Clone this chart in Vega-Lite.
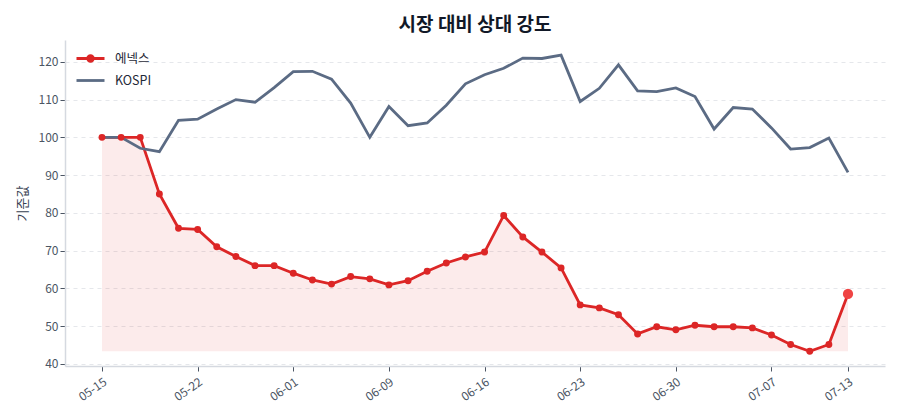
{
  "$schema": "https://vega.github.io/schema/vega-lite/v6.json",
  "width": 820,
  "height": 326,
  "autosize": {"type": "none"},
  "padding": {"left": 65, "top": 40, "right": 15, "bottom": 54},
  "background": "white",
  "config": {
    "font": "Noto Sans CJK KR",
    "view": {"stroke": null},
    "axis": {
      "domainColor": "#d5d9e0",
      "domainWidth": 1.5,
      "tickColor": "#4b5563",
      "tickSize": 5,
      "labelColor": "#4b5563",
      "labelFontSize": 12,
      "labelFont": "Noto Sans CJK KR"
    }
  },
  "title": {
    "text": "시장 대비 상대 강도",
    "fontSize": 19,
    "fontWeight": "bold",
    "color": "#111827",
    "anchor": "middle",
    "frame": "group",
    "offset": 5
  },
  "data": {
    "values": [
      {"date": "05-15", "series": "에넥스", "value": 100},
      {"date": "05-18", "series": "에넥스", "value": 100},
      {"date": "05-19", "series": "에넥스", "value": 100},
      {"date": "05-20", "series": "에넥스", "value": 85.0},
      {"date": "05-21", "series": "에넥스", "value": 75.9},
      {"date": "05-22", "series": "에넥스", "value": 75.6},
      {"date": "05-26", "series": "에넥스", "value": 71.0},
      {"date": "05-27", "series": "에넥스", "value": 68.4},
      {"date": "05-28", "series": "에넥스", "value": 66.0},
      {"date": "05-29", "series": "에넥스", "value": 66.0},
      {"date": "06-01", "series": "에넥스", "value": 64.0},
      {"date": "06-02", "series": "에넥스", "value": 62.2},
      {"date": "06-04", "series": "에넥스", "value": 61.1},
      {"date": "06-05", "series": "에넥스", "value": 63.1},
      {"date": "06-08", "series": "에넥스", "value": 62.5},
      {"date": "06-09", "series": "에넥스", "value": 60.9},
      {"date": "06-10", "series": "에넥스", "value": 62.0},
      {"date": "06-11", "series": "에넥스", "value": 64.5},
      {"date": "06-12", "series": "에넥스", "value": 66.7},
      {"date": "06-15", "series": "에넥스", "value": 68.3},
      {"date": "06-16", "series": "에넥스", "value": 69.6},
      {"date": "06-17", "series": "에넥스", "value": 79.3},
      {"date": "06-18", "series": "에넥스", "value": 73.6},
      {"date": "06-19", "series": "에넥스", "value": 69.6},
      {"date": "06-22", "series": "에넥스", "value": 65.4},
      {"date": "06-23", "series": "에넥스", "value": 55.6},
      {"date": "06-24", "series": "에넥스", "value": 54.8},
      {"date": "06-25", "series": "에넥스", "value": 53.0},
      {"date": "06-26", "series": "에넥스", "value": 47.9},
      {"date": "06-29", "series": "에넥스", "value": 49.8},
      {"date": "06-30", "series": "에넥스", "value": 49.0},
      {"date": "07-01", "series": "에넥스", "value": 50.2},
      {"date": "07-02", "series": "에넥스", "value": 49.8},
      {"date": "07-03", "series": "에넥스", "value": 49.8},
      {"date": "07-06", "series": "에넥스", "value": 49.5},
      {"date": "07-07", "series": "에넥스", "value": 47.6},
      {"date": "07-08", "series": "에넥스", "value": 45.1},
      {"date": "07-09", "series": "에넥스", "value": 43.3},
      {"date": "07-10", "series": "에넥스", "value": 45.1},
      {"date": "07-13", "series": "에넥스", "value": 58.5},
      {"date": "05-15", "series": "KOSPI", "value": 100},
      {"date": "05-18", "series": "KOSPI", "value": 100},
      {"date": "05-19", "series": "KOSPI", "value": 97.1},
      {"date": "05-20", "series": "KOSPI", "value": 96.2},
      {"date": "05-21", "series": "KOSPI", "value": 104.5},
      {"date": "05-22", "series": "KOSPI", "value": 104.8},
      {"date": "05-26", "series": "KOSPI", "value": 107.5},
      {"date": "05-27", "series": "KOSPI", "value": 110.0},
      {"date": "05-28", "series": "KOSPI", "value": 109.3},
      {"date": "05-29", "series": "KOSPI", "value": 113.2},
      {"date": "06-01", "series": "KOSPI", "value": 117.4},
      {"date": "06-02", "series": "KOSPI", "value": 117.5},
      {"date": "06-04", "series": "KOSPI", "value": 115.4},
      {"date": "06-05", "series": "KOSPI", "value": 109.1},
      {"date": "06-08", "series": "KOSPI", "value": 100.0},
      {"date": "06-09", "series": "KOSPI", "value": 108.2},
      {"date": "06-10", "series": "KOSPI", "value": 103.1},
      {"date": "06-11", "series": "KOSPI", "value": 103.8},
      {"date": "06-12", "series": "KOSPI", "value": 108.5},
      {"date": "06-15", "series": "KOSPI", "value": 114.2},
      {"date": "06-16", "series": "KOSPI", "value": 116.6},
      {"date": "06-17", "series": "KOSPI", "value": 118.3},
      {"date": "06-18", "series": "KOSPI", "value": 121.0},
      {"date": "06-19", "series": "KOSPI", "value": 120.9},
      {"date": "06-22", "series": "KOSPI", "value": 121.8},
      {"date": "06-23", "series": "KOSPI", "value": 109.5},
      {"date": "06-24", "series": "KOSPI", "value": 113.0},
      {"date": "06-25", "series": "KOSPI", "value": 119.2},
      {"date": "06-26", "series": "KOSPI", "value": 112.3},
      {"date": "06-29", "series": "KOSPI", "value": 112.1},
      {"date": "06-30", "series": "KOSPI", "value": 113.1},
      {"date": "07-01", "series": "KOSPI", "value": 110.8},
      {"date": "07-02", "series": "KOSPI", "value": 102.2},
      {"date": "07-03", "series": "KOSPI", "value": 107.9},
      {"date": "07-06", "series": "KOSPI", "value": 107.5},
      {"date": "07-07", "series": "KOSPI", "value": 102.5},
      {"date": "07-08", "series": "KOSPI", "value": 96.9},
      {"date": "07-09", "series": "KOSPI", "value": 97.3},
      {"date": "07-10", "series": "KOSPI", "value": 99.8},
      {"date": "07-13", "series": "KOSPI", "value": 90.7}
    ]
  },
  "encoding": {
    "x": {
      "field": "date",
      "type": "ordinal",
      "scale": {
        "type": "point",
        "padding": 0.934,
        "domain": ["<", "05-15", "05-18", "05-19", "05-20", "05-21", "05-22", "05-26", "05-27", "05-28", "05-29", "06-01", "06-02", "06-04", "06-05", "06-08", "06-09", "06-10", "06-11", "06-12", "06-15", "06-16", "06-17", "06-18", "06-19", "06-22", "06-23", "06-24", "06-25", "06-26", "06-29", "06-30", "07-01", "07-02", "07-03", "07-06", "07-07", "07-08", "07-09", "07-10", "07-13", ">"]
      },
      "axis": {
        "values": ["05-15", "05-22", "06-01", "06-09", "06-16", "06-23", "06-30", "07-07", "07-13"],
        "labelAngle": -35,
        "labelAlign": "right",
        "labelBaseline": "top",
        "labelPadding": 5,
        "title": null,
        "grid": false
      }
    },
    "y": {
      "field": "value",
      "type": "quantitative",
      "scale": {"domain": [39.4, 125.8], "nice": false, "zero": false},
      "axis": {
        "values": [40, 50, 60, 70, 80, 90, 100, 110, 120],
        "grid": true,
        "gridColor": "#e5e7eb",
        "gridDash": [4, 4],
        "gridWidth": 1,
        "title": "기준값",
        "titleFontSize": 13,
        "titleFontWeight": "normal",
        "titleColor": "#374151",
        "titlePadding": 9
      }
    }
  },
  "layer": [
    {
      "transform": [
        {"filter": "datum.series === '에넥스'"},
        {"joinaggregate": [{"op": "min", "field": "value", "as": "minv"}]}
      ],
      "mark": {"type": "area", "color": "#dc2626", "opacity": 0.09},
      "encoding": {"y2": {"field": "minv"}}
    },
    {
      "mark": {"type": "line", "strokeWidth": 2.8},
      "encoding": {
        "color": {
          "field": "series",
          "type": "nominal",
          "scale": {"domain": ["에넥스", "KOSPI"], "range": ["#dc2626", "#5b6b84"]},
          "legend": {
            "title": null,
            "orient": "none",
            "legendX": 17,
            "legendY": 10,
            "padding": 0,
            "symbolType": "stroke",
            "symbolSize": 196,
            "symbolStrokeWidth": 2.8,
            "labelFontSize": 12.5,
            "labelColor": "#1f2937",
            "labelOffset": 16,
            "rowPadding": 5,
            "encode": {
              "symbols": {
                "update": {
                  "shape": {"signal": "datum.value === '에넥스' ? 'M-2,0H2M-0.4,0A0.4,0.4,0,1,0,0.4,0A0.4,0.4,0,1,0,-0.4,0Z' : 'M-2,0H2'"},
                  "fill": {"signal": "datum.value === '에넥스' ? '#dc2626' : 'transparent'"}
                }
              }
            }
          }
        },
        "order": {"field": "series", "sort": "descending"}
      }
    },
    {
      "transform": [{"filter": "datum.series === '에넥스'"}],
      "mark": {"type": "point", "filled": true, "opacity": 1},
      "encoding": {
        "color": {"condition": {"test": "datum.date === '07-13'", "value": "#ef4444"}, "value": "#dc2626"},
        "size": {"condition": {"test": "datum.date === '07-13'", "value": 105}, "value": 48}
      }
    }
  ]
}
